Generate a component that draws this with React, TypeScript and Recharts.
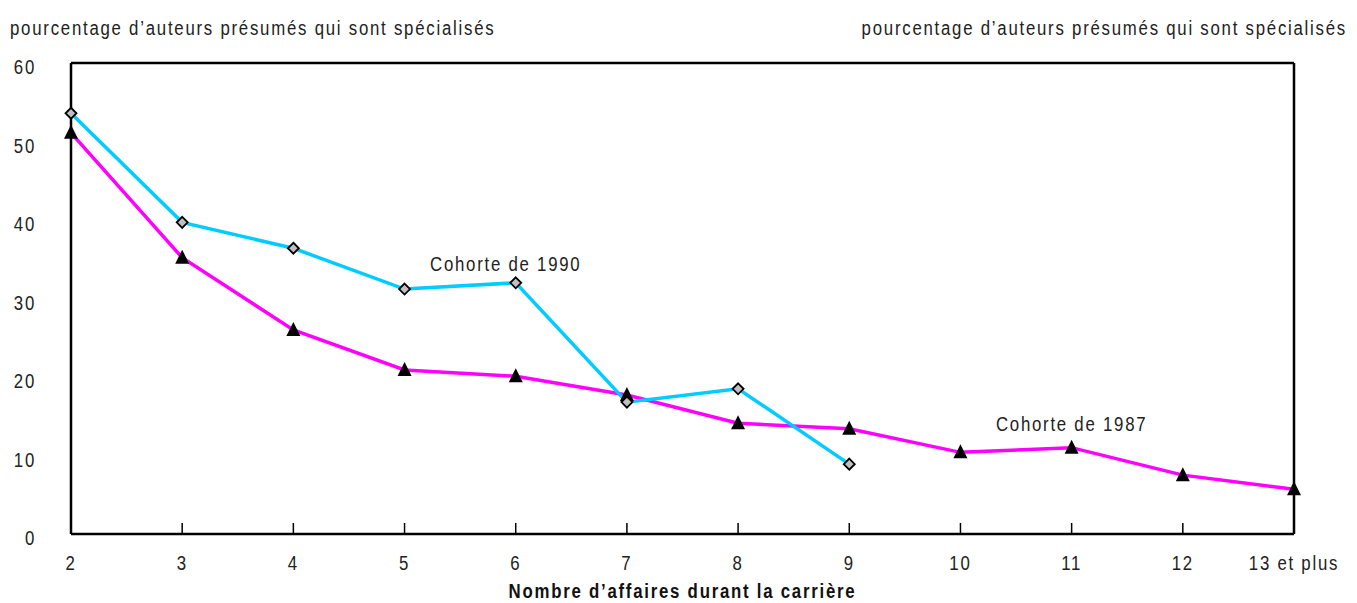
import {
  CartesianGrid,
  LineChart,
  Line,
  ReferenceDot,
  ReferenceLine,
  XAxis,
  YAxis,
} from "recharts";

const categories = ["2", "3", "4", "5", "6", "7", "8", "9", "10", "11", "12", "13 et plus"];
const cohorte1990 = [53.6, 39.7, 36.4, 31.2, 32.0, 16.8, 18.5, 8.9, null, null, null, null];
const cohorte1987 = [51.1, 35.2, 26.0, 20.9, 20.1, 17.7, 14.1, 13.4, 10.4, 11.0, 7.5, 5.7];
const yTicks = [0, 10, 20, 30, 40, 50, 60];

const data = categories.map((c, i) => ({
  cat: c,
  c1990: cohorte1990[i],
  c1987: cohorte1987[i],
}));

const FONT = "'Liberation Sans', Arial, sans-serif";
const SX = 0.8;

// condensed-looking text: normal sans squeezed horizontally
function CText(props: any) {
  const { x, y, anchor = "start", bold = false, children } = props;
  return (
    <text
      transform={`translate(${x},${y}) scale(${SX},1)`}
      textAnchor={anchor}
      fontFamily={FONT}
      fontSize={21}
      letterSpacing={2.2}
      fontWeight={bold ? "bold" : "normal"}
      fill={bold ? "#111" : "#222"}
    >
      {children}
    </text>
  );
}

function Diamond(props: any) {
  const { cx, cy } = props;
  if (cx == null || cy == null) return null;
  const s = 5.5;
  return (
    <polygon
      points={`${cx},${cy - s} ${cx + s},${cy} ${cx},${cy + s} ${cx - s},${cy}`}
      fill="#c0c0c0"
      stroke="#000"
      strokeWidth={1.8}
    />
  );
}

function Triangle(props: any) {
  const { cx, cy } = props;
  if (cx == null || cy == null) return null;
  return (
    <polygon
      points={`${cx},${cy - 8} ${cx + 7},${cy + 6} ${cx - 7},${cy + 6}`}
      fill="#000"
    />
  );
}

function XTick(props: any) {
  const { x, y, payload, index } = props;
  const inner = index > 0 && index < categories.length - 1;
  return (
    <g>
      {inner && <line x1={x} x2={x} y1={y - 22} y2={y - 33} stroke="#000" strokeWidth={1.5} />}
      <CText x={x} y={y + 14} anchor="middle">
        {payload.value}
      </CText>
    </g>
  );
}

function LeftTick(props: any) {
  const { y, payload } = props;
  return (
    <CText x={36} y={y + 11} anchor="end">
      {payload.value}
    </CText>
  );
}

function RightTick(props: any) {
  const { y, payload } = props;
  return (
    <CText x={1356} y={y + 11} anchor="end">
      {payload.value}
    </CText>
  );
}

function AxisTitle(props: any) {
  const { viewBox } = props;
  const { x, width } = viewBox;
  return (
    <CText x={x + width / 2} y={598} anchor="middle" bold>
      Nombre d’affaires durant la carrière
    </CText>
  );
}

export default function App() {
  const title = "pourcentage d\u2019auteurs présumés qui sont spécialisés";
  return (
    <div style={{ position: "absolute", left: 0, top: 0, width: 1357, height: 603, background: "#fff" }}>
      <LineChart
        width={1357}
        height={603}
        data={data}
        margin={{ top: 63, right: 0, bottom: 0, left: 0 }}
      >
        <CartesianGrid vertical={false} stroke="#9a9a9a" strokeWidth={1.5} />
        <XAxis
          dataKey="cat"
          height={69}
          tickLine={false}
          tickSize={0}
          tickMargin={22}
          interval={0}
          axisLine={{ stroke: "#000", strokeWidth: 2.5 }}
          tick={<XTick />}
          label={<AxisTitle />}
        />
        <YAxis
          yAxisId="left"
          width={71}
          domain={[0, 60]}
          ticks={yTicks}
          tickLine={false}
          axisLine={{ stroke: "#000", strokeWidth: 2.5 }}
          tick={<LeftTick />}
        />
        <YAxis
          yAxisId="right"
          orientation="right"
          width={63}
          domain={[0, 60]}
          ticks={yTicks}
          tickLine={false}
          axisLine={{ stroke: "#000", strokeWidth: 2.5 }}
          tick={<RightTick />}
        />
        <ReferenceLine yAxisId="left" y={60} stroke="#000" strokeWidth={2.5} />
        <Line
          yAxisId="left"
          dataKey="c1987"
          stroke="#ff00ff"
          strokeWidth={3.5}
          type="linear"
          dot={<Triangle />}
          activeDot={false}
          isAnimationActive={false}
        />
        <Line
          yAxisId="left"
          dataKey="c1990"
          stroke="#00ccff"
          strokeWidth={3.5}
          type="linear"
          dot={<Diamond />}
          activeDot={false}
          connectNulls={false}
          isAnimationActive={false}
        />
        <ReferenceDot
          yAxisId="left"
          x="6"
          y={33.5}
          r={0}
          shape={(p: any) => (
            <CText x={p.cx - 10} y={p.cy} anchor="middle">
              Cohorte de 1990
            </CText>
          )}
        />
        <ReferenceDot
          yAxisId="left"
          x="11"
          y={13.1}
          r={0}
          shape={(p: any) => (
            <CText x={p.cx} y={p.cy} anchor="middle">
              Cohorte de 1987
            </CText>
          )}
        />
      </LineChart>
      <svg
        width={1357}
        height={50}
        style={{ position: "absolute", left: 0, top: 0, pointerEvents: "none" }}
      >
        <CText x={10} y={35}>
          {title}
        </CText>
        <CText x={1347} y={35} anchor="end">
          {title}
        </CText>
      </svg>
    </div>
  );
}
